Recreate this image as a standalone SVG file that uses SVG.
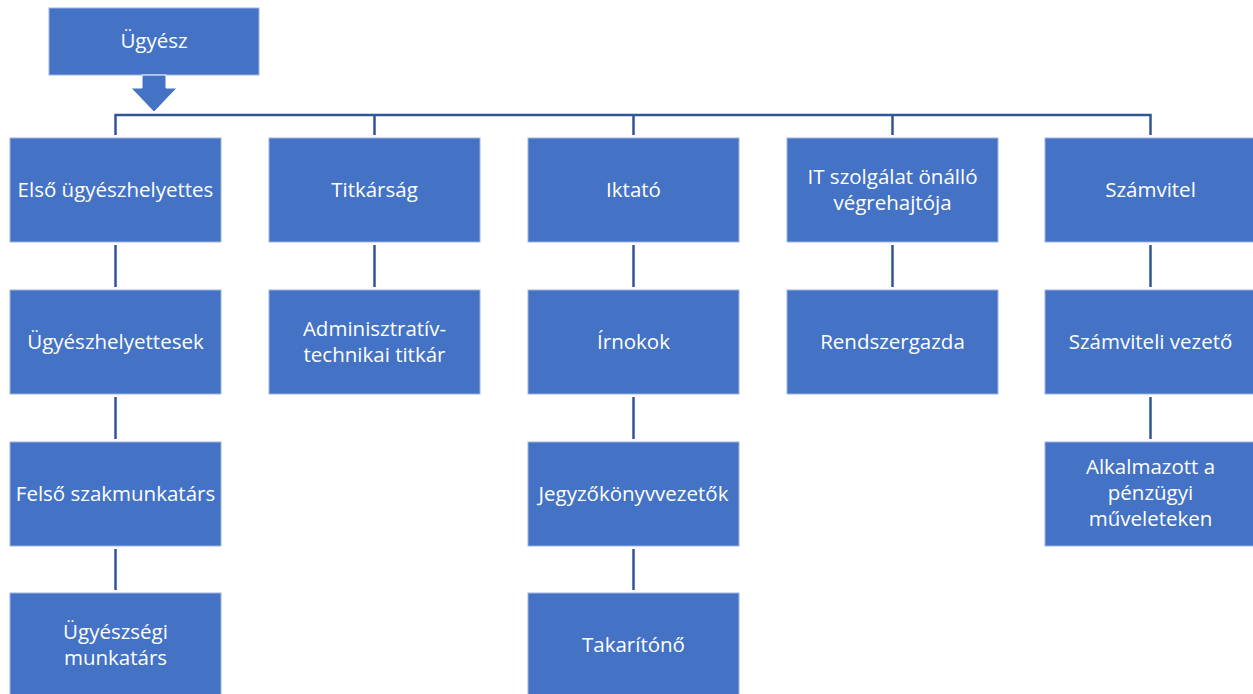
<svg xmlns="http://www.w3.org/2000/svg" width="1253" height="694" viewBox="0 0 1253 694">
<style>
.box{fill:#4472C4;stroke:#9DB4E0;stroke-width:1}
.t{fill:#ffffff;font-family:"Open Sans","Liberation Sans",sans-serif;font-size:20.5px;text-anchor:middle}
.c{stroke:#2F5597;stroke-width:2.5;fill:none}
</style>
<rect width="1253" height="694" fill="#ffffff"/>
<g id="connectors">
<path class="c" d="M115.5,135 V115 H1150.5 V135 M374.5,115 V135 M633.5,115 V135 M892.5,115 V135"/>
<path class="c" d="M115.5,245 V287 M374.5,245 V287 M633.5,245 V287 M892.5,245 V287 M1150.5,245 V287"/>
<path class="c" d="M115.5,397 V439 M633.5,397 V439 M1150.5,397 V439"/>
<path class="c" d="M115.5,549 V590 M633.5,549 V590"/>
</g>
<g id="n-ugyesz">
<rect class="box" x="49" y="8" width="210" height="67"/>
<text class="t" x="154" y="48">Ügyész</text>
</g>
<g id="arrow">
<polygon points="142,75 166,75 166,88 177,88 154,112 131,88 142,88" fill="#4472C4" stroke="#ffffff" stroke-width="1"/>
</g>
<g id="n-elso">
<rect class="box" x="10" y="138" width="211" height="104"/>
<text class="t" x="115.5" y="197">Első ügyészhelyettes</text>
</g>
<g id="n-titkarsag">
<rect class="box" x="269" y="138" width="211" height="104"/>
<text class="t" x="374.5" y="197">Titkárság</text>
</g>
<g id="n-iktato">
<rect class="box" x="528" y="138" width="211" height="104"/>
<text class="t" x="633.5" y="197">Iktató</text>
</g>
<g id="n-it">
<rect class="box" x="787" y="138" width="211" height="104"/>
<text class="t" x="892.5" y="184">IT szolgálat önálló</text>
<text class="t" x="892.5" y="210">végrehajtója</text>
</g>
<g id="n-szamvitel">
<rect class="box" x="1045" y="138" width="211" height="104"/>
<text class="t" x="1150.5" y="197">Számvitel</text>
</g>
<g id="n-helyettesek">
<rect class="box" x="10" y="290" width="211" height="104"/>
<text class="t" x="115.5" y="349">Ügyészhelyettesek</text>
</g>
<g id="n-admin">
<rect class="box" x="269" y="290" width="211" height="104"/>
<text class="t" x="374.5" y="336">Adminisztratív-</text>
<text class="t" x="374.5" y="362">technikai titkár</text>
</g>
<g id="n-irnokok">
<rect class="box" x="528" y="290" width="211" height="104"/>
<text class="t" x="633.5" y="349">Írnokok</text>
</g>
<g id="n-rendszergazda">
<rect class="box" x="787" y="290" width="211" height="104"/>
<text class="t" x="892.5" y="349">Rendszergazda</text>
</g>
<g id="n-szamviteli-vezeto">
<rect class="box" x="1045" y="290" width="211" height="104"/>
<text class="t" x="1150.5" y="349">Számviteli vezető</text>
</g>
<g id="n-felso">
<rect class="box" x="10" y="442" width="211" height="104"/>
<text class="t" x="115.5" y="501">Felső szakmunkatárs</text>
</g>
<g id="n-jegyzo">
<rect class="box" x="528" y="442" width="211" height="104"/>
<text class="t" x="633.5" y="501">Jegyzőkönyvvezetők</text>
</g>
<g id="n-alkalmazott">
<rect class="box" x="1045" y="442" width="211" height="104"/>
<text class="t" x="1150.5" y="474">Alkalmazott a</text>
<text class="t" x="1150.5" y="500">pénzügyi</text>
<text class="t" x="1150.5" y="526">műveleteken</text>
</g>
<g id="n-munkatars">
<rect class="box" x="10" y="593" width="211" height="104"/>
<text class="t" x="115.5" y="639">Ügyészségi</text>
<text class="t" x="115.5" y="665">munkatárs</text>
</g>
<g id="n-takarito">
<rect class="box" x="528" y="593" width="211" height="104"/>
<text class="t" x="633.5" y="652">Takarítónő</text>
</g>
</svg>
